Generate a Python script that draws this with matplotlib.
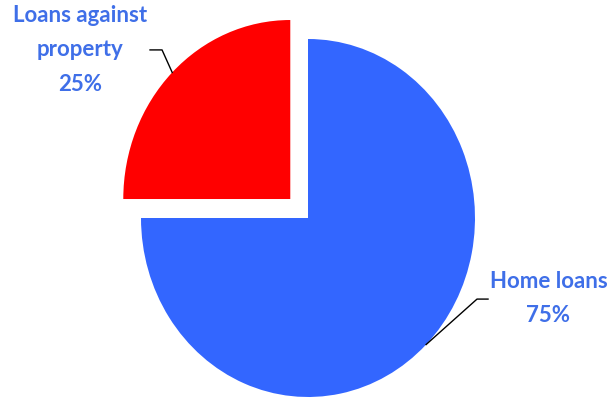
import numpy as np
import matplotlib
matplotlib.use("Agg")
import matplotlib.pyplot as plt

labels = ["Loans against\nproperty", "Home loans"]
shares = [25, 75]
colors = ["#FF0000", "#3366FF"]
explode = [0.15, 0.0]

TXT = "#3f6fe8"

fig = plt.figure(figsize=(6.07, 4.0), dpi=100)
ax = fig.add_axes([0, 0, 1, 1])
wedges, _ = ax.pie(shares, colors=colors, explode=explode, startangle=90,
                   counterclock=True, wedgeprops=dict(linewidth=0))
# pie in the reference is slightly taller than wide
ax.set_aspect("auto")
ax.set_xlim(-308 / 167, (607 - 308) / 167)
ax.set_ylim(-182 / 179, 218 / 179)
ax.axis("off")

# label positions (text centre) and elbow of the leader line, data units
text_pos = [(-1.365, 0.94), (1.44, -0.45)]
elbow = [(-0.874, 0.939), (1.012, -0.453)]
elbow_end = [(-0.946, 0.939), (1.078, -0.453)]

for w, lab, s, tp, el, ee in zip(wedges, labels, shares, text_pos, elbow, elbow_end):
    mid = np.deg2rad((w.theta1 + w.theta2) / 2)
    cx, cy = w.center
    px, py = cx + np.cos(mid), cy + np.sin(mid)
    ax.plot([px, el[0], ee[0]], [py, el[1], ee[1]], color="black", lw=1, zorder=5)
    ax.text(tp[0], tp[1], "%s\n%d%%" % (lab, s), ha="center", va="center",
            color=TXT, fontsize=16, fontweight="bold", linespacing=1.8,
            family="Lato")

fig.savefig("out.png", dpi=100)
